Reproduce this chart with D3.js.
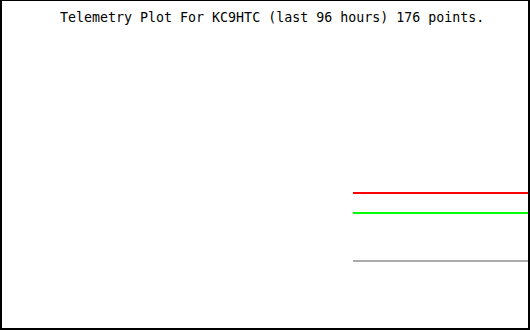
<!doctype html>
<html lang="en">
<head>
    <title>Telemetry Plot</title>
    <script src='https://d3js.org/d3.v7.min.js'></script>
    <style>
        body { margin: 0; background: #fff; }
        svg { display: block; }
    </style>
</head>
<body>
<script>
    var width = 530, height = 330;

    // telemetry data (hours relative to now, raw values 0-255)
    var hours = [-32, 0];
    var channel1 = [105.9, 105.9];
    var channel2 = [90.4, 90.4];
    var channel3 = [53.3, 53.3];
    var colors = ['#ff0000', '#00ff00', '#aaaaaa'];
    var title = 'Telemetry Plot For KC9HTC (last 96 hours) 176 points.';

    var svg = d3.select('body').append('svg')
        .attr('width', width).attr('height', height);

    svg.append('rect').attr('width', width).attr('height', height).style('fill', '#fff');

    var x = d3.scaleLinear().domain([-96, 0]).range([0, 529]);
    var y = d3.scaleLinear().domain([0, 255]).range([330, 0]);

    var series = [channel1, channel2, channel3];

    var line = d3.line()
        .x(function(d, i) { return x(hours[i]) })
        .y(function(d) { return y(d) });

    svg.selectAll('path.series')
        .data(series)
        .join('path')
        .attr('class', 'series')
        .attr('d', line)
        .style('fill', 'none')
        .style('stroke', function(d, i) { return colors[i] })
        .style('stroke-width', 2)
        .style('shape-rendering', 'crispEdges');

    // title
    svg.append('text')
        .attr('x', 60)
        .attr('y', 22)
        .style('font-family', "'DejaVu Sans Mono', monospace")
        .style('font-size', '13.3px')
        .style('fill', '#000')
        .text(title);

    // frame
    var frame = svg.append('g').style('fill', '#000');
    frame.append('rect').attr('x', 0).attr('y', 0).attr('width', width).attr('height', 1);
    frame.append('rect').attr('x', 0).attr('y', 0).attr('width', 2).attr('height', height);
    frame.append('rect').attr('x', width - 2).attr('y', 0).attr('width', 2).attr('height', height);
    frame.append('rect').attr('x', 0).attr('y', height - 2).attr('width', width).attr('height', 2);
</script>
</body>
</html>
